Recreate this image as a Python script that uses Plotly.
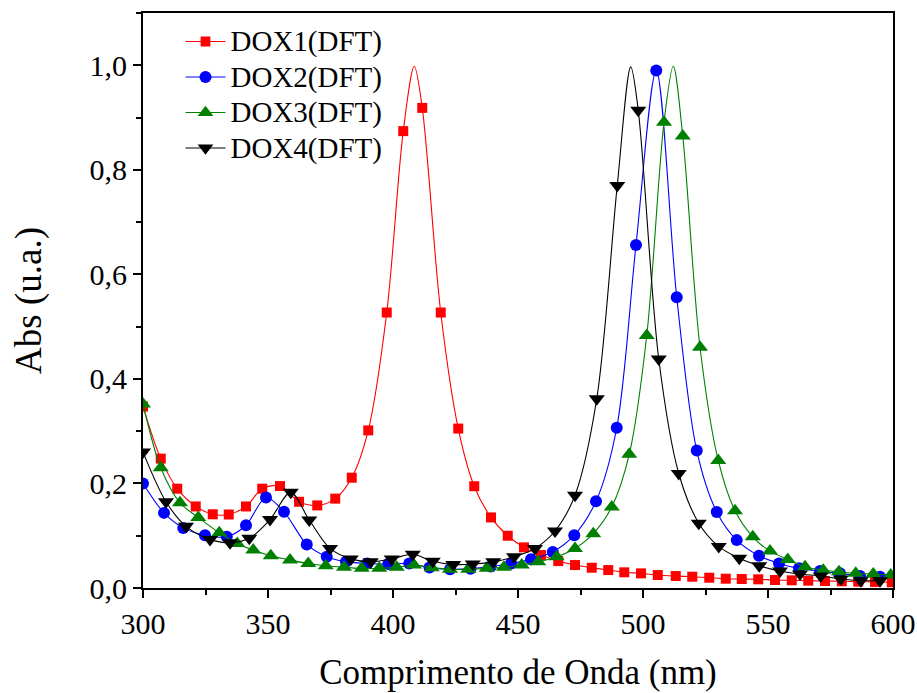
import plotly.graph_objects as go

# ---------------- data ----------------
dox1_x = [300, 307.1, 313.7, 321.1, 327.9, 334.3, 341.2, 347.7, 354.8, 362.4, 369.7, 376.9,
          383.5, 390.1, 397.5, 404.1, 408.5, 411.7, 419.1, 426.1, 432.5, 439.2, 445.9, 452.4,
          459.2, 466.1, 472.8, 479.5, 486.1, 492.5, 499.2, 505.9, 513.1, 519.7, 526.5, 533.1,
          539.5, 546.1, 552.8, 559.5, 566.1, 572.8, 579.5, 586.1, 592.8, 599.5]
dox1_y = [0.347, 0.2475, 0.190, 0.156, 0.141, 0.1406, 0.156, 0.190, 0.195, 0.165, 0.158, 0.171,
          0.211, 0.3015, 0.527, 0.874, 0.998, 0.9185, 0.527, 0.305, 0.1947, 0.135, 0.100, 0.0777,
          0.063, 0.0515, 0.0439, 0.0388, 0.0343, 0.030, 0.028, 0.0248, 0.0229, 0.0216, 0.0197, 0.0178,
          0.0172, 0.0166, 0.0153, 0.0147, 0.014, 0.0134, 0.0128, 0.0122, 0.0116, 0.011]
dox1_peak = [408.5]   # line-only point (no marker)

dox2_x = [300, 308.4, 316.1, 324.8, 333.5, 341.2, 349.2, 356.4, 365.5, 373.5, 381.2, 389.7,
          398.1, 406.5, 414.6, 422.8, 431, 439.1, 447.2, 455.2, 463.9, 472.5, 481.2, 489.5,
          497.2, 505.3, 513.5, 521.5, 529.5, 537.5, 546.4, 554.4, 562.4, 570.8, 578.8, 586.8, 594.8]
dox2_y = [0.200, 0.1437, 0.115, 0.101, 0.098, 0.120, 0.173, 0.1457, 0.0833, 0.0598, 0.050, 0.047,
          0.0458, 0.047, 0.039, 0.036, 0.037, 0.041, 0.047, 0.0548, 0.069, 0.101, 0.166, 0.3066,
          0.656, 0.990, 0.556, 0.263, 0.1456, 0.0916, 0.0617, 0.047, 0.0376, 0.0324, 0.028, 0.0229, 0.0216]
dox2_peak = []

dox3_x = [300, 307.1, 314.8, 322.1, 330.5, 337.7, 344.1, 351.1, 358.8, 366.1, 373.1, 380.4,
          387.5, 394.5, 401.5, 408.4, 415.5, 422.8, 430.1, 437.5, 444.4, 451.5, 458.1, 465.5,
          472.8, 480.1, 487.5, 494.5, 501.5, 508.4, 512.1, 515.9, 522.8, 530.1, 536.8, 543.9,
          550.8, 557.9, 564.8, 572.1, 578.4, 585.1, 592.1, 599.1]
dox3_y = [0.352, 0.230, 0.163, 0.135, 0.1056, 0.0853, 0.0725, 0.0617, 0.0534, 0.047, 0.0426, 0.0395,
          0.0376, 0.0376, 0.0395, 0.044, 0.0389, 0.0357, 0.0357, 0.0376, 0.0395, 0.044, 0.050, 0.0598,
          0.0757, 0.104, 0.155, 0.2557, 0.483, 0.891, 0.998, 0.8645, 0.4605, 0.244, 0.1476, 0.098,
          0.0706, 0.0547, 0.0407, 0.034, 0.031, 0.028, 0.0267, 0.0248]
dox3_peak = [512.1]

dox4_x = [300, 309.2, 317.2, 326.8, 334.8, 342.5, 350.8, 359.1, 366.5, 374.8, 383.1, 391.1,
          399.5, 407.9, 415.9, 424.1, 431.9, 440.1, 448.4, 456.8, 464.8, 472.8, 481.5, 489.7,
          495.1, 498.1, 506.3, 514.3, 522.3, 530.3, 538.5, 546.5, 554.8, 562.8, 571.1, 579.1,
          587.1, 594.8]
dox4_y = [0.260, 0.165, 0.118, 0.093, 0.0865, 0.095, 0.131, 0.183, 0.130, 0.0757, 0.0557, 0.050,
          0.0557, 0.0645, 0.051, 0.045, 0.0458, 0.050, 0.0598, 0.0757, 0.109, 0.1775, 0.362, 0.770,
          0.997, 0.914, 0.438, 0.219, 0.124, 0.0795, 0.0567, 0.0426, 0.0324, 0.0267, 0.0229, 0.0172,
          0.014, 0.014]
dox4_peak = [495.1]

series_names = ["DOX1(DFT)", "DOX2(DFT)", "DOX3(DFT)", "DOX4(DFT)"]

x_ticks = [300, 350, 400, 450, 500, 550, 600]
y_ticks = [0.0, 0.2, 0.4, 0.6, 0.8, 1.0]

# ---------------- styling ----------------
FONT = "Liberation Serif"
styles = [
    dict(color="#ff0000", symbol="square", size=10),
    dict(color="#0000ff", symbol="circle", size=12),
    dict(color="#008000", symbol="triangle-up", size=14),
    dict(color="#000000", symbol="triangle-down", size=14),
]
datasets = [(dox1_x, dox1_y, dox1_peak), (dox2_x, dox2_y, dox2_peak),
            (dox3_x, dox3_y, dox3_peak), (dox4_x, dox4_y, dox4_peak)]

fig = go.Figure()
for name, (xs, ys, peaks), st in zip(series_names, datasets, styles):
    sizes = [0 if x in peaks else st["size"] for x in xs]
    fig.add_trace(go.Scatter(
        x=xs, y=ys, mode="lines+markers",
        name='<span style="font-size:29px">' + name + '</span>',
        line=dict(color=st["color"], width=1.1, shape="spline", smoothing=0.9),
        marker=dict(color=st["color"], symbol=st["symbol"], size=sizes, opacity=1,
                    line=dict(width=0)),
    ))

fig.update_xaxes(
    range=[300, 600], tickvals=x_ticks,
    showgrid=False, zeroline=False, showline=True, linecolor="black", linewidth=2,
    mirror=True, ticks="outside", ticklen=8, tickwidth=2, tickcolor="black",
    automargin=False,
    tickfont=dict(family=FONT, size=30, color="black"),
    minor=dict(ticks="outside", dtick=25, tick0=300, ticklen=5, tickwidth=2, tickcolor="black"),
    title=dict(text="Comprimento de Onda (nm)",
               font=dict(family=FONT, size=35, color="black"), standoff=20),
)
fig.update_yaxes(
    range=[0, 1.1], tickvals=y_ticks, tickformat=".1f",
    showgrid=False, zeroline=False, showline=True, linecolor="black", linewidth=2,
    mirror=True, ticks="outside", ticklen=8, tickwidth=2, tickcolor="black",
    automargin=False,
    tickfont=dict(family=FONT, size=30, color="black"),
    minor=dict(ticks="outside", dtick=0.1, tick0=0, ticklen=5, tickwidth=2, tickcolor="black"),
    title=dict(text="Abs (u.a.)",
               font=dict(family=FONT, size=37, color="black"), standoff=37),
)

fig.update_layout(
    width=917, height=693,
    margin=dict(l=143, r=24, t=13, b=105),
    separators=",.",
    plot_bgcolor="white", paper_bgcolor="white",
    showlegend=True,
    legend=dict(x=0.05, y=0.99, xanchor="left", yanchor="top",
                font=dict(family=FONT, size=25, color="black"),
                bgcolor="rgba(0,0,0,0)", tracegroupgap=0, itemwidth=40),
)

fig.write_html("out.html")
